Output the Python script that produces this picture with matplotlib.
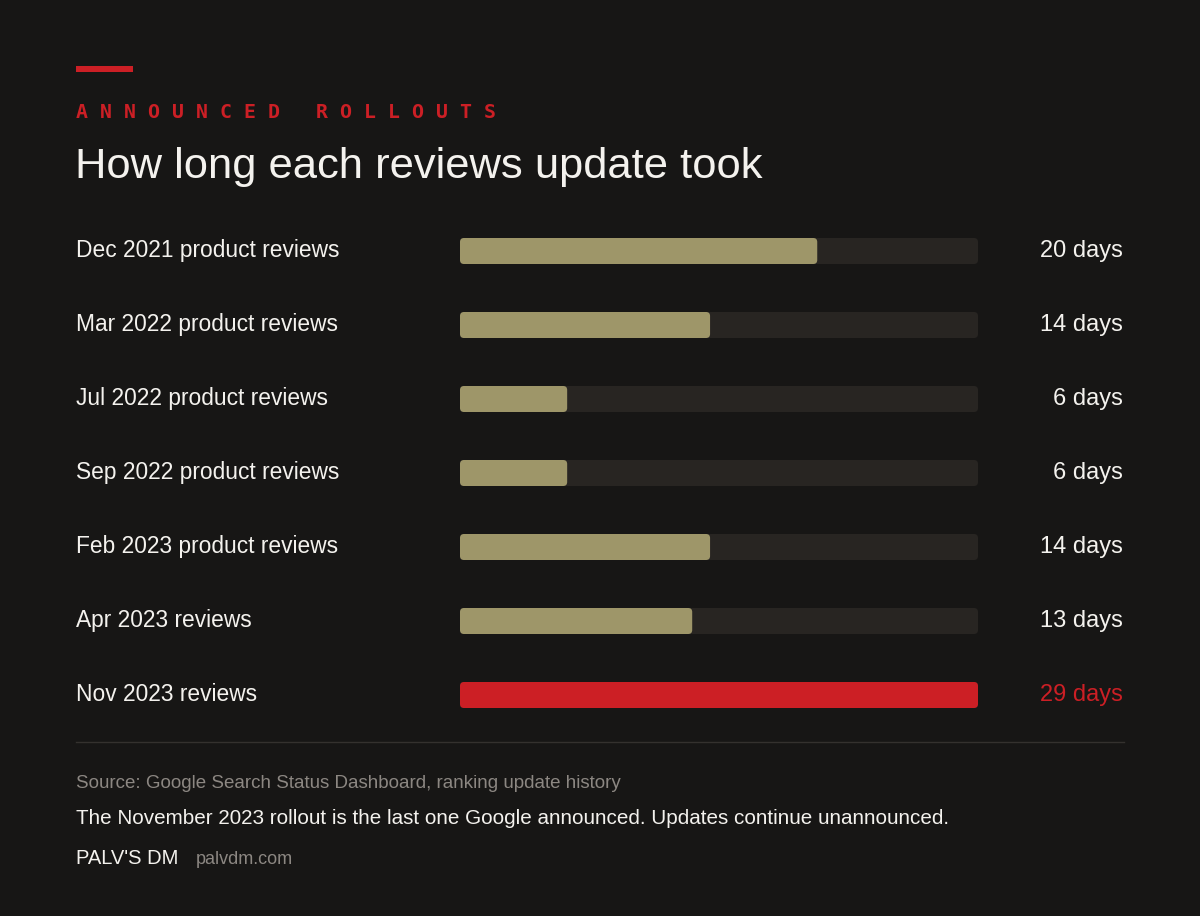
import matplotlib
matplotlib.use("Agg")
import matplotlib.pyplot as plt
from matplotlib.patches import FancyBboxPatch
import matplotlib.transforms as mtransforms

categories = ["Dec 2021 product reviews", "Mar 2022 product reviews", "Jul 2022 product reviews",
              "Sep 2022 product reviews", "Feb 2023 product reviews", "Apr 2023 reviews", "Nov 2023 reviews"]
days = [20, 14, 6, 6, 14, 13, 29]
value_labels = ["20 days", "14 days", "6 days", "6 days", "14 days", "13 days", "29 days"]
highlight = [False, False, False, False, False, False, True]
max_days = 29

BG = "#171615"
TRACK = "#282522"
BAR = "#9e9669"
RED = "#cc1f25"
WHITE = "#f4f2ee"
GREY = "#8c8782"
FONT = "Liberation Sans"

W, H = 1200, 916
fig = plt.figure(figsize=(W / 100, H / 100), dpi=100, facecolor=BG)

def fx(px): return px / W
def fy(py): return 1 - py / H

# Bar axes
top, bottom = 214, 732
ax = fig.add_axes([fx(460), fy(bottom), fx(978) - fx(460), (bottom - top) / H])
ax.set_facecolor(BG)
ax.set_xlim(0, max_days)
n = len(categories)
ax.set_ylim(n - 0.5, -0.5)
ax.axis("off")

bar_h = 26 / 74
x_per_px = max_days / 518
y_per_px = 1 / 74
rad_px = 4
asp = y_per_px / x_per_px

def rounded(x0, w, yc, color):
    p = FancyBboxPatch((x0, yc - bar_h / 2), w, bar_h,
                       boxstyle=f"round,pad=0,rounding_size={rad_px * x_per_px}",
                       mutation_aspect=asp, facecolor=color, edgecolor="none")
    ax.add_patch(p)

tracks = ax.barh(range(n), [max_days] * n, height=bar_h, color="none")
bars = ax.barh(range(n), days, height=bar_h, color="none")
for i, (t, b) in enumerate(zip(tracks, bars)):
    yc = t.get_y() + t.get_height() / 2
    rounded(t.get_x(), t.get_width(), yc, TRACK)
    rounded(b.get_x(), b.get_width(), yc, RED if highlight[i] else BAR)

trans = mtransforms.blended_transform_factory(fig.transFigure, ax.transData)
for i, cat in enumerate(categories):
    ax.text(fx(76), i - 0.005, cat, transform=trans, ha="left", va="center",
            fontsize=16.4, color=WHITE, family=FONT)
    ax.text(fx(1123), i - 0.005, value_labels[i], transform=trans, ha="right", va="center",
            fontsize=17, color=RED if highlight[i] else WHITE, family=FONT)

# Header
fig.patches.append(plt.Rectangle((fx(76), fy(72)), fx(133) - fx(76), 6 / H,
                                 transform=fig.transFigure, facecolor=RED, edgecolor="none"))
fig.text(fx(76), fy(112), " ".join("ANNOUNCED") + "   " + " ".join("ROLLOUTS"),
         ha="left", va="center", fontsize=14.35, color=RED, family="DejaVu Sans Mono",
         fontweight="bold")
fig.text(fx(75), fy(167), "How long each reviews update took", ha="left", va="center",
         fontsize=31.3, color=WHITE, family=FONT)

# Footer
fig.add_artist(plt.Line2D([fx(76), fx(1124)], [fy(742), fy(742)], transform=fig.transFigure,
                          color="#34312e", linewidth=1))
fig.text(fx(76), fy(784), "Source: Google Search Status Dashboard, ranking update history",
         ha="left", va="center", fontsize=13.5, color=GREY, family=FONT)
fig.text(fx(76), fy(819), "The November 2023 rollout is the last one Google announced. Updates continue unannounced.",
         ha="left", va="center", fontsize=14.9, color=WHITE, family=FONT)
fig.text(fx(76), fy(859), "PALV'S DM", ha="left", va="center", fontsize=14.5, color=WHITE, family=FONT)
fig.text(fx(196), fy(859), "palvdm.com", ha="left", va="center", fontsize=13, color=GREY, family=FONT)

fig.savefig("out.png", dpi=100, facecolor=BG)
